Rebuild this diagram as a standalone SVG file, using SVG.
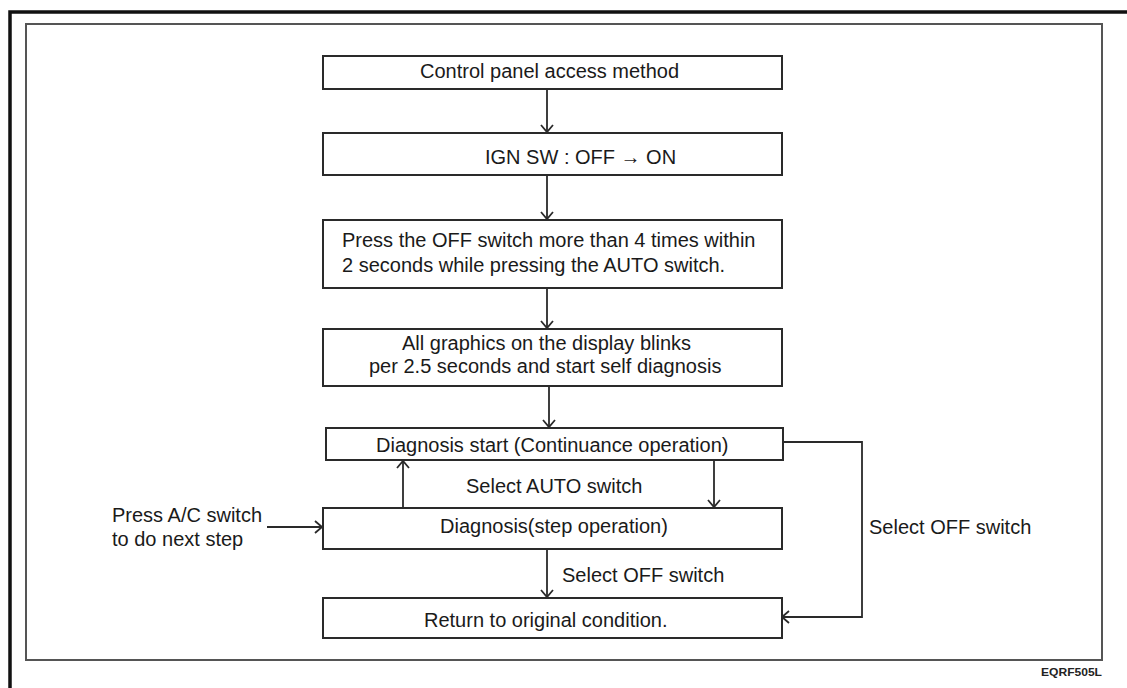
<svg xmlns="http://www.w3.org/2000/svg" width="1127" height="688" viewBox="0 0 1127 688">
<defs>
<style>
.box{fill:#fff;stroke:#2a2a2a;stroke-width:2}
.t{font-family:"Liberation Sans",Arial,sans-serif;font-size:20px;fill:#1a1a1a}
.c{fill:none;stroke:#2a2a2a;stroke-width:1.8}
</style>
<marker id="ah" viewBox="-8 -7 10 14" refX="0" refY="0" markerWidth="10" markerHeight="14" markerUnits="userSpaceOnUse" orient="auto">
<path d="M-7,-6 L0,0 L-7,6" fill="none" stroke="#2a2a2a" stroke-width="1.8"/>
</marker>
</defs>
<rect width="1127" height="688" fill="#fff"/>
<g id="frame">
<path d="M10,688 V12 H1127" fill="none" stroke="#111" stroke-width="3.5"/>
<rect x="26" y="24" width="1076" height="636" fill="none" stroke="#555" stroke-width="2"/>
<text x="1041" y="676" font-family="Liberation Sans,Arial,sans-serif" font-size="11" font-weight="bold" fill="#222" textLength="61" lengthAdjust="spacingAndGlyphs">EQRF505L</text>
</g>
<g id="connectors">
<path class="c" d="M547,89 V132" marker-end="url(#ah)"/>
<path class="c" d="M547,175 V219" marker-end="url(#ah)"/>
<path class="c" d="M547,288 V328" marker-end="url(#ah)"/>
<path class="c" d="M549,386 V427" marker-end="url(#ah)"/>
<path class="c" d="M403,508 V461" marker-end="url(#ah)"/>
<path class="c" d="M714,460 V507" marker-end="url(#ah)"/>
<path class="c" d="M547,549 V597" marker-end="url(#ah)"/>
<path class="c" d="M784,442 H862 V617 H782" marker-end="url(#ah)"/>
<path class="c" d="M267,527 H322" marker-end="url(#ah)"/>
<text class="t" x="466" y="493">Select AUTO switch</text>
<text class="t" x="562" y="582">Select OFF switch</text>
<text class="t" x="869" y="534">Select OFF switch</text>
<text class="t" x="112" y="522">Press A/C switch</text>
<text class="t" x="112" y="546">to do next step</text>
</g>
<g id="n1">
<rect class="box" x="323" y="56" width="459" height="33"/>
<text class="t" x="420" y="78">Control panel access method</text>
</g>
<g id="n2">
<rect class="box" x="323" y="133" width="459" height="42"/>
<text class="t" x="485" y="164">IGN SW : OFF → ON</text>
</g>
<g id="n3">
<rect class="box" x="323" y="220" width="459" height="68"/>
<text class="t" x="342" y="247">Press the OFF switch more than 4 times within</text>
<text class="t" x="342" y="272">2 seconds while pressing the AUTO switch.</text>
</g>
<g id="n4">
<rect class="box" x="323" y="329" width="459" height="57"/>
<text class="t" x="402" y="350">All graphics on the display blinks</text>
<text class="t" x="369" y="373">per 2.5 seconds and start self diagnosis</text>
</g>
<g id="n5">
<rect class="box" x="326" y="428" width="457" height="32"/>
<text class="t" x="376" y="452">Diagnosis start (Continuance operation)</text>
</g>
<g id="n6">
<rect class="box" x="323" y="508" width="459" height="41"/>
<text class="t" x="440" y="533">Diagnosis(step operation)</text>
</g>
<g id="n7">
<rect class="box" x="323" y="598" width="459" height="40"/>
<text class="t" x="424" y="627">Return to original condition.</text>
</g>
</svg>
